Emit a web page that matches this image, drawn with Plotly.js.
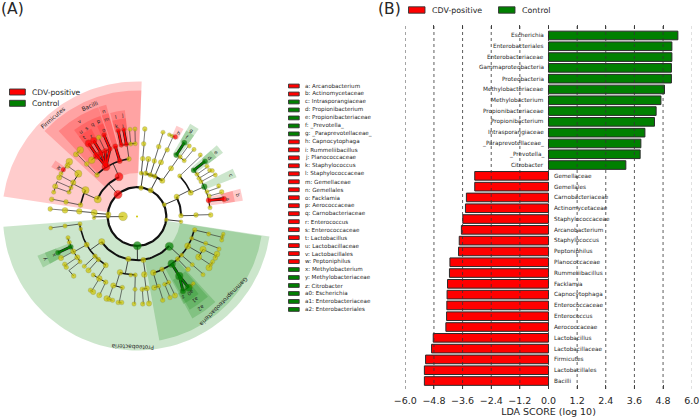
<!DOCTYPE html>
<html><head><meta charset="utf-8">
<script src="https://cdn.plot.ly/plotly-3.0.1.min.js"></script>
<style>html,body{margin:0;padding:0;background:#fff}#c{width:700px;height:419px}</style>
</head><body><div id="c"></div>
<script>
// ---------- panel B: LDA scores ----------
const controlTaxa=['Escherichia','Enterobacteriales','Enterobacteriaceae','Gammaproteobacteria','Proteobacteria','Methylobacteriaceae','Methylobacterium','Propionibacteriaceae','Propionibacterium','Intrasporangiaceae','_Paraprevotellaceae_','_Prevotella_','Citrobacter'];
const controlScores=[5.42,5.17,5.17,5.15,5.15,4.86,4.71,4.51,4.44,4.04,3.87,3.84,3.24];
const positiveTaxa=['Gemellaceae','Gemellales','Carnobacteriaceae','Actinomycetaceae','Staphylococcaceae','Arcanobacterium','Staphylococcus','Peptoniphilus','Planococcaceae','Rummeliibacillus','Facklamia','Capnocytophaga','Enterococcaceae','Enterococcus','Aerococcaceae','Lactobacillus','Lactobacillaceae','Firmicutes','Lactobacillales','Bacilli'];
const positiveScores=[-3.09,-3.09,-3.44,-3.48,-3.59,-3.65,-3.74,-3.77,-4.13,-4.15,-4.23,-4.25,-4.26,-4.27,-4.30,-4.83,-4.90,-5.15,-5.20,-5.20];
const xTicks=[-6,-4.8,-3.6,-2.4,-1.2,0,1.2,2.4,3.6,4.8,6];
const seriesNames=['CDV-positive','Control'];
// ---------- panel A: key of the cladogram ----------
const keyLabels=['a: Arcanobacterium','b: Actinomycetaceae','c: Intrasporangiaceae','d: Propionibacterium','e: Propionibacteriaceae','f: _Prevotella_','g: _Paraprevotellaceae_','h: Capnocytophaga','i: Rummeliibacillus','j: Planococcaceae','k: Staphylococcus','l: Staphylococcaceae','m: Gemellaceae','n: Gemellales','o: Facklamia','p: Aerococcaceae','q: Carnobacteriaceae','r: Enterococcus','s: Enterococcaceae','t: Lactobacillus','u: Lactobacillaceae','v: Lactobacillales','w: Peptoniphilus','x: Methylobacterium','y: Methylobacteriaceae','z: Citrobacter','a0: Escherichia','a1: Enterobacteriaceae','a2: Enterobacteriales'];
const keyGroups=['r','r','g','g','g','g','g','r','r','r','r','r','r','r','r','r','r','r','r','r','r','r','r','g','g','g','g','g','g'];
// ---------- cladogram sectors: label, group, angle from, angle to, inner, outer, label radius, label angle ----------
const sectors=[
['Firmicutes','r',-81.5,2,29,135,130,-40.5],['Proteobacteria','g',98.6,265.6,29,134,130.5,182],
['Bacilli','r',-47.2,2,43.5,126,120.5,-23],['Gammaproteobacteria','g',98.9,169.8,43.5,126,121,134.6],
['v','r',-42.5,-19.5,58,116,111,-31],['n','r',-19.3,-15.4,58,116,111,-17.4],['a2','g',137.5,151.5,58,116,111.7,145],
['u','r',-36,-31.5,72,107,102,-33.8],['s','r',-31.5,-27.5,72,107,102,-29.5],['q','r',-27.5,-23.8,72,107,102,-25.6],['p','r',-23.8,-20,72,107,102,-22],
['m','r',-19.3,-15.4,72,107,102,-17.3],['l','r',-14.5,-10.5,72,107,102,-12.4],['j','r',-10.5,-6.5,72,107,102,-8.6],
['g','g',29.8,35.2,72,107,102,32],['e','g',48.2,53.5,72,107,102.4,50.7],['c','g',63.5,68.5,72,107,103,66.2],['b','r',75,81.5,72,107,103,78.1],
['a1','g',138.5,150.5,73,107,102,144.8],['y','g',241.5,248.5,72,107,101.5,245],
['t','r',-36,-31.5,87,99,95,-33.6],['r','r',-31.5,-27.5,87,99,93,-29.6],['o','r',-23.8,-20,87,99,93,-21.4],
['k','r',-14.5,-10.5,87,99,92.5,-13],['i','r',-10.5,-6.5,87,99,92,-8.8],['w','r',-60,-55.5,87,99,92.5,-57.8],
['h','r',23.5,28,87,99,93.5,26.5],['f','g',29.8,35.2,87,99,94,32],['d','g',48.2,53.5,87,99,93.4,51.3],['a','r',75,81.5,87,99,93,79],
['a0','g',141.5,147.5,87,99,93.4,144.7],['z','g',147.5,152,87,99,93,150.2],['x','g',241.5,248.5,87,99,92.4,245]
];
// ---------- cladogram nodes: id, parent, x, y, size, group ----------
const firmicutesNodes=[
['F','R',118,194.5,7.5,'r'],['B','F',119,176.7,7.5,'r'],['Y1','F',97.7,199.3,6.5,'y'],
['O','B',106,166.7,7.5,'r'],['Gm','B',119.7,161,4.5,'r'],['Bl','B',129,159,4,'y'],['Bz','B',97,175,4,'y'],
['fa','O',91.7,160.2,6,'y'],['la','O',97,155.7,6.5,'r'],['en','O',101,153,5,'r'],['ca','O',105.3,151,4.5,'r'],['ae','O',110,149,4,'r'],
['gf','Gm',115.3,146.3,4.5,'r'],['st','Bl',121.3,145,4,'r'],['pl','Bl',126.3,144.3,4,'r'],['b3','Bl',130.7,144,3.5,'y'],['b4','Bl',135.3,143.7,3.5,'y'],['bz2','Bz',86.7,164,4,'y'],
['lg','la',88.7,143.5,6.5,'r'],['eg','en',93.7,140.7,6,'r'],['cg','ca',98.7,137.5,4,'y'],['ag','ae',104,135,4,'r'],
['sg','st',118.3,130.7,4,'r'],['rg','pl',123.7,129.7,3.5,'r'],['b5','b3',130,129.3,3.5,'y'],['b6','b4',135,129,3.5,'y'],['z1','bz2',80.3,150,6,'y'],['z2','bz2',76,154.3,4.5,'y'],
['c1','Y1',85.5,190.2,6.5,'y'],['c2','Y1',80.5,205,4,'y'],['c3','c2',66,202,4,'y'],['c4','c3',51.7,199.3,4,'y'],
['d1','c1',78.3,173.7,6.5,'y'],['d2','c1',73.3,182.5,4.5,'y'],['d3','c1',71,187.7,3.5,'y'],['d4','c1',69,192.2,3.5,'y'],
['e1','d1',69.3,161.7,6,'y'],['e2','d1',67.5,165.7,4.5,'y'],['e3','d1',63.3,169.7,4,'r'],['e4','d1',61,173.7,3.5,'y'],['e5','d2',59.2,177.5,4.5,'y'],['e6','d3',55.2,186.3,4.5,'y'],['e7','d4',53.7,192.2,3.5,'y']
];
const leftNodes=[
['p1','R',108.3,214.3,4.5,'y'],['p2','R',108.3,216.7,3,'y'],['big','p2',123,216.3,8,'y'],['g1','p1',94.2,212.7,5.5,'y'],['g2','g1',79.3,211.3,5,'y'],['g3','g2',65,210.3,5,'y'],['g4','g3',50.2,209,4,'y'],['g5','p2',94,217.8,3,'y']
];
const proteoNodes=[
['P','R',137.3,245.7,7.5,'g'],['a1','P',101.7,241.7,5.5,'y'],['a2','P',128.3,259,4.5,'y'],['a3','P',143.3,260,4.5,'y'],['G','P',169.3,246.3,7.5,'g'],
['h1','a1',80,224,3.5,'y'],['h2','a1',80.7,229,3,'y'],['h3','a1',86.7,244.7,4.5,'y'],['h4','a1',95,256.2,4,'y'],['h5','a1',98.3,259.5,4,'y'],['h6','a1',105.7,265.2,4.5,'y'],
['i1','h1',65,226,3.5,'y'],['i2','i1',50.7,228,3.2,'y'],
['j1','h3',70.7,246.8,4.5,'g'],['j2','h3',73.3,251.5,4.5,'y'],['j3','h3',77.3,257.3,4.5,'y'],['j4','h3',80,261.7,3.5,'y'],['j5','h3',69.3,242.3,3.5,'y'],['j6','h3',68,237.7,3.5,'y'],
['k1','j1',58,252.7,4.5,'g'],['k2','j2',61,258,4.5,'y'],['k3','j3',64.7,264.3,3.8,'y'],['k4','j3',66.3,267.3,3.8,'y'],['k5','j4',73.7,276,4,'y'],
['l1','h4',84.3,266.3,3.5,'y'],['l2','h5',88.5,270.3,4.5,'y'],['m1','h6',93.3,275,3.5,'y'],['m2','h6',99.3,278.5,5,'y'],['m3','h6',105.7,282.2,4,'y'],
['n1','m2',90.5,290.2,3.8,'y'],['n2','m2',93.2,292,4.5,'y'],['n3','m3',99.3,295.2,4.5,'y'],
['q1','a2',120,272.3,5,'y'],['q2','a2',130.7,275,3.3,'y'],['q3','a2',135.3,275,3.5,'y'],['r1','q1',113.3,285.5,4.5,'y'],['r2','q1',122.3,287.5,3.8,'y'],['r3','q3',135,289.3,3.5,'y'],
['s1','r1',106.7,298.5,5,'y'],['s2','r1',109.2,299.3,3.8,'y'],['s3','r1',112.5,300.3,3.8,'y'],['s4','r2',118.2,302.5,3.8,'y'],['s5','r2',121.7,302.5,3.8,'y'],['s6','r3',134,304,3.5,'y'],
['t1','a3',144.3,274.5,5,'y'],['t2','t1',142.3,289.3,4,'y'],['t3','t1',147,288.3,4.5,'y'],['t4','t2',142.7,304,3.8,'y'],['t5','t3',149,303.5,4.5,'y']
];
const gammaNodes=[
['u1','G',153.3,272.7,5,'y'],['u2','G',162,269.3,4,'y'],['E','G',171.7,263.7,7,'g'],['u3','G',177.7,259,4,'y'],['u4','G',181.7,255.2,3.5,'y'],['u5','G',187.7,246,5.5,'y'],['u6','G',191.7,238.3,3.5,'y'],['u7','G',194.7,230,4,'y'],
['v1','u1',154.2,287.7,4.5,'y'],['v2','u1',158.7,286.2,3.5,'y'],['v3','u2',164.7,284.3,3.5,'y'],['v4','u2',168.7,282.3,3.5,'y'],['Ef','E',179.3,276,7,'g'],['v5','u3',188,269.3,4,'y'],['v6','u4',192.3,264.7,3.5,'y'],['v7','u5',198.7,257,5.5,'y'],['v8','u5',203,249.3,5.5,'y'],['v9','u6',205.7,243.3,3.5,'y'],['v10','u7',208.7,234,3.5,'y'],
['w1','v2',162.7,300.3,3.8,'y'],['w2','v3',170,297.5,3.8,'y'],['w3','v4',175,295.5,4.5,'y'],['Eb','Ef',193.3,283.5,3,'y'],['Ec','Ef',191,286,3,'y'],['Ea','Ef',188.7,287.7,6.5,'g'],['Ez','Ef',183,291,5,'g'],
['w4','v6',203,274.7,3.5,'y'],['w5','v7',209,267.7,5.5,'y'],['w6','v7',211,264.3,3,'y'],['w7','v7',212.7,261.7,3.5,'y'],['w8','v8',215.3,258,4,'y'],['w9','v8',217,254,5,'y'],['w10','v9',219,249,3.5,'y'],['w11','v10',221.7,240,3.5,'y'],['w12','v10',222.3,236.7,3,'y'],['w13','v10',223.3,234,3,'y']
];
const rightNodes=[
['p3','R',166.3,219.7,3.3,'y'],['p4','R',164.3,204.7,3.5,'y'],['p5','R',150.7,190.3,4.5,'y'],['p6','R',141,188,4,'y'],
['aa1','p3',181,221.7,3,'y'],['aa2','p4',181,215.7,4,'y'],['aa3','aa2',196,215,4,'y'],['aa4','aa3',210.7,215,4,'y'],
['bb','p4',176.7,196.7,4.5,'y'],['cc1','bb',179.7,176,3.5,'y'],['cc2','bb',190.7,192.7,4.5,'y'],['cc3','cc1',200.3,155,3.5,'y'],
['dd1','cc2',193.7,170.3,4.5,'g'],['dd2','cc2',197,174.3,3.5,'y'],['dd3','cc2',199,178.3,3.5,'y'],['dd4','cc2',201,181.7,3.5,'y'],['dd5','cc2',204.3,186.7,5,'g'],['dd6','cc2',207,191.7,3.5,'y'],['dd7','cc2',209.3,196,3.5,'y'],['dd8','cc2',208.7,200.3,4.5,'r'],['dd9','cc2',210,207.7,3.5,'y'],
['ee1','dd1',205,161.3,4.5,'g'],['ee2','dd2',207,166.3,3.5,'y'],['ee3','dd3',209.7,170.3,3.5,'y'],['ee4','dd3',212.3,170.7,3.5,'y'],['ee5','dd4',215.3,175,3.5,'y'],['ee6','dd6',218.7,186,3.5,'y'],['ee7','dd7',221.7,192,4,'y'],['ee8','dd8',224,199,4.5,'r'],
['ff1','p5',145.7,173.3,4,'y'],['ff2','p5',150.3,175,4,'y'],['ff3','p5',154.7,176.3,4,'y'],['ff4','p5',162.3,180.7,4.5,'y'],
['gg1','ff1',148.3,159,4.5,'y'],['gg2','ff2',154.3,161,4,'y'],['gg3','ff3',161,162.3,4.5,'y'],['gg4','ff4',171,168.3,4.5,'y'],
['hh2','gg2',158.7,146.7,4,'y'],['hh3','gg3',167.2,149.8,4,'y'],['hh4','gg4',176.3,155,4.5,'g'],['hh5','gg4',180.3,157,3.5,'y'],['hh6','gg4',184.2,160.7,3.5,'y'],
['ii2','hh2',163,132.3,3.5,'y'],['ii3','hh3',169.3,134.7,3,'y'],['ii4','hh3',172,136,3,'y'],['ii5','hh3',175.3,137,4,'r'],['ii6','hh4',184.3,142.7,4.5,'g'],['ii7','hh5',189.3,146,3.5,'y'],['ii8','hh6',194,149.5,3.5,'y'],
['jj1','p6',141.3,173.2,3.5,'y'],['jj2','jj1',142.7,158.7,4,'y'],['jj3','jj2',143.7,143.8,4,'y'],['jj4','jj3',144.8,129,4,'y']
];

// ---------- drawing ----------
const FONT='"DejaVu Sans",sans-serif', INK='#262626';
const COL={r:'#ff0000',g:'#008000',y:'#cfc600'}, TINT={r:'rgba(255,0,0,0.2)',g:'rgba(0,128,0,0.2)'};
const cx=137, cy=216.5, RING=14.55;
const polar=(r,t)=>[cx+r*Math.sin(t*Math.PI/180), cy-r*Math.cos(t*Math.PI/180)];
const nodes=[...firmicutesNodes,...leftNodes,...proteoNodes,...gammaNodes,...rightNodes].map(n=>{
  const dx=n[2]-cx, dy=cy-n[3];
  return {id:n[0],par:n[1],x:n[2],y:n[3],size:n[4],grp:n[5],r:Math.hypot(dx,dy),t:Math.atan2(dx,dy)*180/Math.PI};
});
const byId=Object.fromEntries(nodes.map(n=>[n.id,n]));
const traces=[];
const onClade=t=>Object.assign({xaxis:'x2',yaxis:'y2',showlegend:false,hoverinfo:'skip',cliponaxis:false},t);

// sectors
sectors.forEach(s=>{
  const xs=[],ys=[];
  for(let i=0;i<=60;i++){const p=polar(s[5],s[2]+(s[3]-s[2])*i/60);xs.push(p[0]);ys.push(p[1]);}
  for(let i=60;i>=0;i--){const p=polar(s[4],s[2]+(s[3]-s[2])*i/60);xs.push(p[0]);ys.push(p[1]);}
  traces.push(onClade({type:'scatter',mode:'lines',x:xs,y:ys,fill:'toself',fillcolor:TINT[s[1]],line:{width:0},name:s[0]}));
});
// edges
const ARC={2:2.2,3:2.0,4:1.6,5:1.0,6:0.7}, RAD={2:0.8,3:0.9,4:0.8,5:0.7,6:0.6};
const buckets={};
function seg(w,c,pts){const k=w+'|'+c;const b=buckets[k]||(buckets[k]={w,c,x:[],y:[]});pts.forEach(p=>{b.x.push(p[0]);b.y.push(p[1]);});b.x.push(null);b.y.push(null);}
function arc(r,a,b){const pts=[],n=Math.max(2,Math.ceil(Math.abs(b-a)/3));for(let i=0;i<=n;i++)pts.push(polar(r,a+(b-a)*i/n));return pts;}
const circle=arc(29.3,0,360); seg(2.2,'#111',circle);
const hot=[];
nodes.forEach(n=>{n.ring=Math.round(n.r/RING);});
const parents=[...new Set(nodes.map(n=>n.par))].filter(p=>p!=='R');
parents.forEach(pid=>{
  const p=byId[pid], kids=nodes.filter(n=>n.par===pid), rings=[...new Set(kids.map(k=>k.ring))];
  rings.forEach(ring=>{
    const g=kids.filter(k=>k.ring===ring), rc=g.reduce((a,k)=>a+k.r,0)/g.length;
    const rel=g.map(k=>{let d=k.t-p.t;while(d>180)d-=360;while(d<-180)d+=360;return p.t+d;});
    seg(RAD[Math.min(6,Math.max(2,ring))],'#222',[polar(p.r,p.t),polar(rc,p.t)]);
    const lo=Math.min(p.t,...rel), hi=Math.max(p.t,...rel);
    if(hi-lo>0.4) seg(ARC[Math.min(6,Math.max(2,ring))],'#111',arc(rc,lo,hi));
    g.forEach(k=>{ if(k.grp===p.grp&&k.grp!=='y'&&k.ring>=5) hot.push([p,k]); });
  });
});
hot.forEach(([p,k])=>seg(2.8,'#1a1a1a',[[p.x,p.y],[k.x,k.y]]));
hot.forEach(([p,k])=>seg(1.8,COL[k.grp],[[p.x,p.y],[k.x,k.y]]));
Object.values(buckets).forEach(b=>traces.push(onClade({type:'scatter',mode:'lines',x:b.x,y:b.y,line:{color:b.c,width:b.w}})));
// nodes
traces.push(onClade({type:'scatter',mode:'markers',name:'clades',x:nodes.map(n=>n.x),y:nodes.map(n=>n.y),
  marker:{size:nodes.map(n=>n.size+0.8),color:nodes.map(n=>COL[n.grp]),line:{color:'#6b6b3a',width:0.3}}}));
traces.push(onClade({type:'scatter',mode:'markers',name:'root',x:[cx],y:[cy],marker:{size:2,color:COL.y}}));

// bars
const allTaxa=[...controlTaxa,...positiveTaxa];
traces.push({type:'bar',orientation:'h',name:seriesNames[0],y:positiveTaxa,x:positiveScores,width:0.8,marker:{color:COL.r,line:{color:'#2a2a2a',width:1}},showlegend:false,hoverinfo:'skip'});
traces.push({type:'bar',orientation:'h',name:seriesNames[1],y:controlTaxa,x:controlScores,width:0.8,marker:{color:COL.g,line:{color:'#2a2a2a',width:1}},showlegend:false,hoverinfo:'skip'});

// annotations and shapes
const anns=[], shapes=[];
const txt=(x,y,text,size,opt)=>anns.push(Object.assign({xref:'x2',yref:'y2',x,y,text,showarrow:false,font:{family:FONT,size,color:INK},xanchor:'left',yanchor:'middle',borderpad:0},opt||{}));
txt(0,9,'(A)',15.5); txt(377,9,'(B)',15.5);
sectors.forEach(s=>{const p=polar(s[6],s[7]);txt(p[0],p[1],s[0],s[0].length>2?5.8:5.2,{xanchor:'center',textangle:s[7]});});
const swatch=(x0,x1,y0,y1,c)=>shapes.push({type:'rect',xref:'x2',yref:'y2',x0,x1,y0,y1,fillcolor:c,line:{color:'#333',width:0.9},layer:'above'});
swatch(9.5,25.3,89,95,COL.r); swatch(9.5,25.3,100.3,106.3,COL.g);
txt(31,92,seriesNames[0],7.6); txt(31,103,seriesNames[1],7.6);
swatch(408.5,425,6.8,13.2,COL.r); swatch(498.5,515,6.8,13.2,COL.g);
txt(431,10,seriesNames[0],7.9); txt(520.7,10,seriesNames[1],7.9);
keyLabels.forEach((l,i)=>{const y=86+i*7.98; swatch(288.5,299.2,y-1.9,y+1.9,COL[keyGroups[i]]); txt(304,y,l,5.6);});
controlTaxa.forEach(t=>anns.push({xref:'x',yref:'y',x:0,y:t,text:t,showarrow:false,xanchor:'right',yanchor:'middle',xshift:-3,font:{family:FONT,size:5.75,color:INK}}));
positiveTaxa.forEach(t=>anns.push({xref:'x',yref:'y',x:0,y:t,text:t,showarrow:false,xanchor:'left',yanchor:'middle',xshift:3,font:{family:FONT,size:5.75,color:INK}}));
xTicks.forEach(v=>shapes.push({type:'line',xref:'x',yref:'paper',x0:v,x1:v,y0:30/419,y1:1-25/419,line:{color:v===6?'#bbb':'#333',width:0.8,dash:'dot'},layer:'above'}));

const layout={
  width:700,height:419,autosize:false,margin:{l:0,r:0,t:0,b:0},paper_bgcolor:'#fff',plot_bgcolor:'rgba(0,0,0,0)',
  barmode:'overlay',bargap:0.2,
  xaxis:{domain:[405.3/700,691.7/700],range:[-6,6],tickvals:xTicks,tickformat:'.1f',ticks:'inside',ticklen:4,tickcolor:'#222',tickwidth:0.8,mirror:'ticks',showgrid:false,zeroline:false,showline:false,ticklabelstandoff:4,
    tickfont:{family:FONT,size:9.5,color:INK},title:{text:'LDA SCORE (log 10)',font:{family:FONT,size:9.5,color:INK},standoff:3},automargin:false,anchor:'y'},
  yaxis:{domain:[1-389/419,1-25/419],type:'category',categoryorder:'array',categoryarray:allTaxa,range:[32.74,-0.97],showticklabels:false,ticks:'',showgrid:false,zeroline:false,showline:false,anchor:'x'},
  xaxis2:{domain:[0,1],range:[0,700],visible:false,anchor:'y2'},
  yaxis2:{domain:[0,1],range:[419,0],visible:false,anchor:'x2'},
  annotations:anns,shapes
};
Plotly.newPlot('c',traces,layout,{staticPlot:true,displayModeBar:false});
</script></body></html>
